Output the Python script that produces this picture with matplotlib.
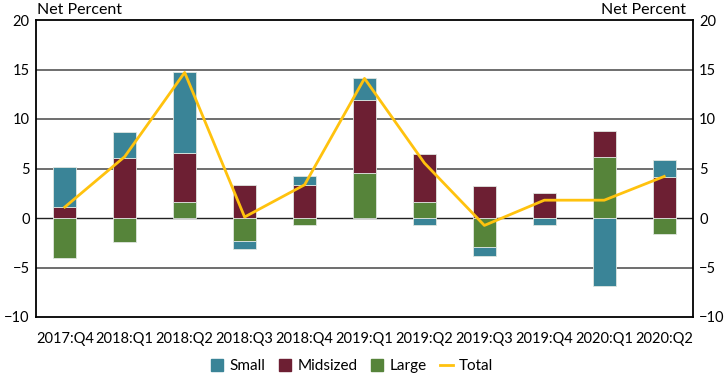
import numpy as np
import matplotlib.pyplot as plt
from matplotlib.patches import Patch
from matplotlib.lines import Line2D

quarters = ["2017:Q4", "2018:Q1", "2018:Q2", "2018:Q3", "2018:Q4", "2019:Q1",
            "2019:Q2", "2019:Q3", "2019:Q4", "2020:Q1", "2020:Q2"]
small = [4.1, 2.6, 8.15, -0.85, 0.9, 2.2, -0.75, -0.85, -0.75, -6.9, 1.75]
midsized = [1.1, 6.05, 4.95, 3.3, 3.3, 7.4, 4.85, 3.2, 2.5, 2.6, 4.15]
large = [-4.0, -2.45, 1.6, -2.3, -0.75, 4.55, 1.6, -2.95, 0.0, 6.2, -1.6]
total = [1.1, 6.2, 14.7, 0.1, 3.35, 14.1, 5.55, -0.75, 1.8, 1.8, 4.2]

colors = {"Small": "#3a8497", "Midsized": "#6d1f33", "Large": "#56843a"}
line_color = "#ffc20e"

plt.rcParams['font.family'] = ['Lato', 'DejaVu Sans']
fig = plt.figure(figsize=(7.25, 3.86), dpi=100)
ax = fig.add_axes([36 / 725, 1 - 317 / 386, 657 / 725, 297 / 386])

x = np.arange(len(quarters))
w = 0.385
pos = np.zeros(len(x))
neg = np.zeros(len(x))
# stack order: Large, Midsized, Small (positives up, negatives down)
for name, vals in [("Large", large), ("Midsized", midsized), ("Small", small)]:
    v = np.array(vals)
    bottom = np.where(v >= 0, pos, neg)
    ax.bar(x, v, w, bottom=bottom, color=colors[name], edgecolor="#dfe6e0",
           linewidth=0.6, zorder=2)
    pos = pos + np.where(v >= 0, v, 0)
    neg = neg + np.where(v < 0, v, 0)

ax.plot(x, total, color=line_color, lw=2, zorder=3)

ax.set_xlim(-0.48, 10.48)
ax.set_ylim(-10, 20)
ax.set_yticks(range(-10, 21, 5))
ax.set_xticks(x)
ax.set_xticklabels(quarters)
for yv in [-5, 5, 10, 15]:
    ax.axhline(yv, color="#555555", lw=1.2, zorder=1)
ax.axhline(0, color="#222222", lw=1, zorder=1.5)
for s in ax.spines.values():
    s.set_linewidth(1.3)
    s.set_color("black")
ax.tick_params(axis="y", length=0, labelsize=10.5, labelright=True, pad=4.5)
ax.tick_params(axis="x", length=0, labelsize=10.5, pad=11)

fig.text(37 / 725, 1 - 10 / 386, "Net Percent", fontsize=11.5, ha="left", va="center")
fig.text(686 / 725, 1 - 10 / 386, "Net Percent", fontsize=11.5, ha="right", va="center")

handles = [Patch(color=colors[n], label=n) for n in ["Small", "Midsized", "Large"]]
handles.append(Line2D([0], [0], color=line_color, lw=2, label="Total"))
fig.legend(handles=handles, loc="center", bbox_to_anchor=(352 / 725, 1 - 366 / 386),
           ncol=4, frameon=False, fontsize=11, handlelength=0.8, handleheight=0.8,
           handletextpad=0.4, columnspacing=0.9)

fig.savefig("out.png", dpi=100)
